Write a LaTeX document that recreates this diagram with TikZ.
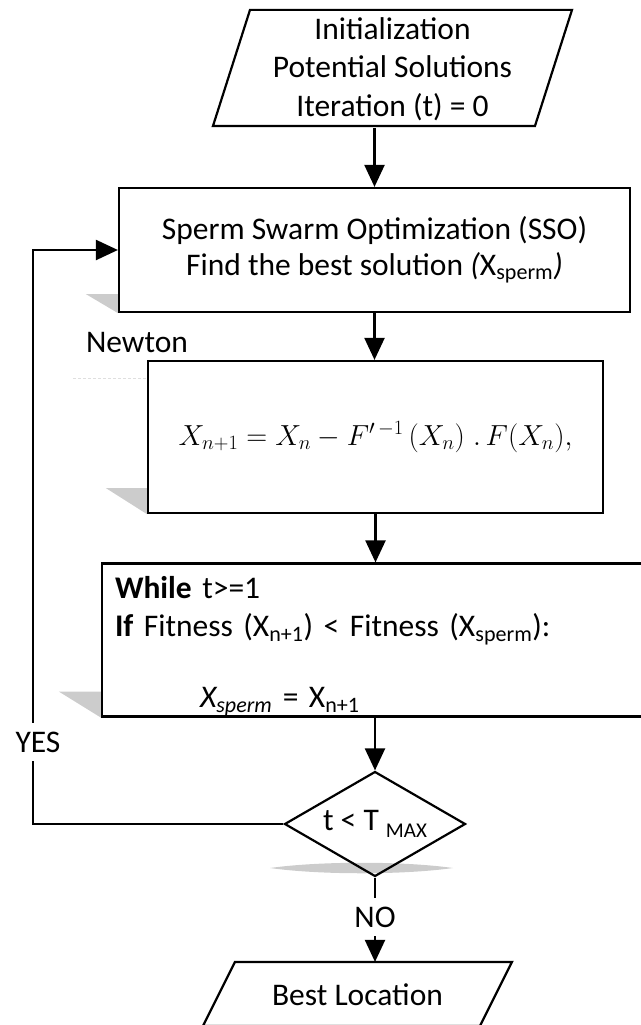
\documentclass[tikz,border=0pt]{standalone}
\usepackage{fix-cm}
\usepackage[no-math]{fontspec}
\setmainfont{Carlito}
\usetikzlibrary{arrows.meta,backgrounds,shapes.geometric}
\newcommand{\bodyfont}{\fontsize{31.5}{38.3}\selectfont}

\begin{document}
\begin{tikzpicture}[x=1pt,y=-1pt,>={Triangle[length=22pt,width=20pt]},line width=2.2pt,
  box/.style={draw,rectangle,inner sep=0pt,align=center,font=\bodyfont},
  txt/.style={inner sep=0pt,align=center,font=\bodyfont},
  lbl/.style={font=\bodyfont,fill=white,inner xsep=2pt,inner ysep=9pt},
  shade/.style={fill=gray!40,draw=none}]
  \useasboundingbox (0,0) rectangle (640,1025);
  \node[txt,minimum height=116pt] (init) at (392.5,69)
    {Initialization\\Potential Solutions\\Iteration (t) = 0};
  \draw (init.north) ++(-142.5,0) -- ++(322,0) -- ++(-37,116) -- ++(-322,0) -- cycle;
  \node[box,minimum width=511pt,minimum height=124pt] (sso) at (374.5,250)
    {Sperm Swarm Optimization (SSO)\\[-3pt]Find the best solution \textit{(}X\textsubscript{sperm}\textit{)}};
  \node[font=\bodyfont] (newtonlbl) at (137,343) {Newton};
  \node[box,minimum width=455pt,minimum height=152pt] (newton) at (375.5,437)
    {\fontsize{29}{34}\selectfont $X_{n+1} = X_n - F'^{\,-1}\,(X_n)\;.\,F(X_n),$};
  \node[box,align=left,text width=520pt,inner xsep=13pt,minimum height=153pt] (while) at (375,640)
    {\rule{0pt}{34pt}\textbf{While} t>=1\\ \textbf{If} Fitness (X\textsubscript{n+1}) < Fitness (X\textsubscript{sperm}):\\[33pt]
     \hspace*{85pt}\textit{X\textsubscript{sperm}} = X\textsubscript{n+1}};
  \node[draw,diamond,aspect=1.72,inner sep=0pt,minimum width=181pt,minimum height=105pt,font=\bodyfont] (cond) at (375,824)
    {t < T \raisebox{-7pt}{\fontsize{21}{21}\selectfont MAX}};
  \node[txt,minimum height=64pt] (best) at (357.5,995) {Best Location};
  \draw (best.north) ++(-122.5,0) -- ++(277,0) -- ++(-32,64) -- ++(-277,0) -- cycle;

  % shadows
  \begin{scope}[on background layer]
    \fill[shade] (sso.south west) -- ++(0,-19) -- ++(-32,0) -- cycle;
    \fill[shade] (newton.south west) -- ++(0,-26) -- ++(-41,0) -- cycle;
    \fill[shade] (while.south west) -- ++(0,-26) -- ++(-42,0) -- cycle;
    \fill[shade] (270,868) .. controls (320,861) and (403,861) .. (453,868) .. controls (403,875) and (320,875) .. (270,868) -- cycle;
    \draw[gray!25,line width=1pt,dash pattern=on 3pt off 2pt] (73,378) -- (148,378);
  \end{scope}

  \coordinate (loop) at (33,742);
  \draw[->] (sso.north |- init.south) -- (sso.north);
  \draw[->] (sso.south) -- (sso.south |- newton.north);
  \draw[->] (newton.south) -- (newton.south |- while.north);
  \draw[->] (while.south) -- (cond.north);
  \draw[->] (cond.west) -| (loop) |- (sso.west);
  \node[lbl] (yes) at (38,742) {YES};
  \node[lbl,inner ysep=8pt] (no) at (375,917) {NO};
  \draw (cond.south) -- (no);
  \draw[->] (no) -- (no |- best.north);
\end{tikzpicture}
\end{document}
